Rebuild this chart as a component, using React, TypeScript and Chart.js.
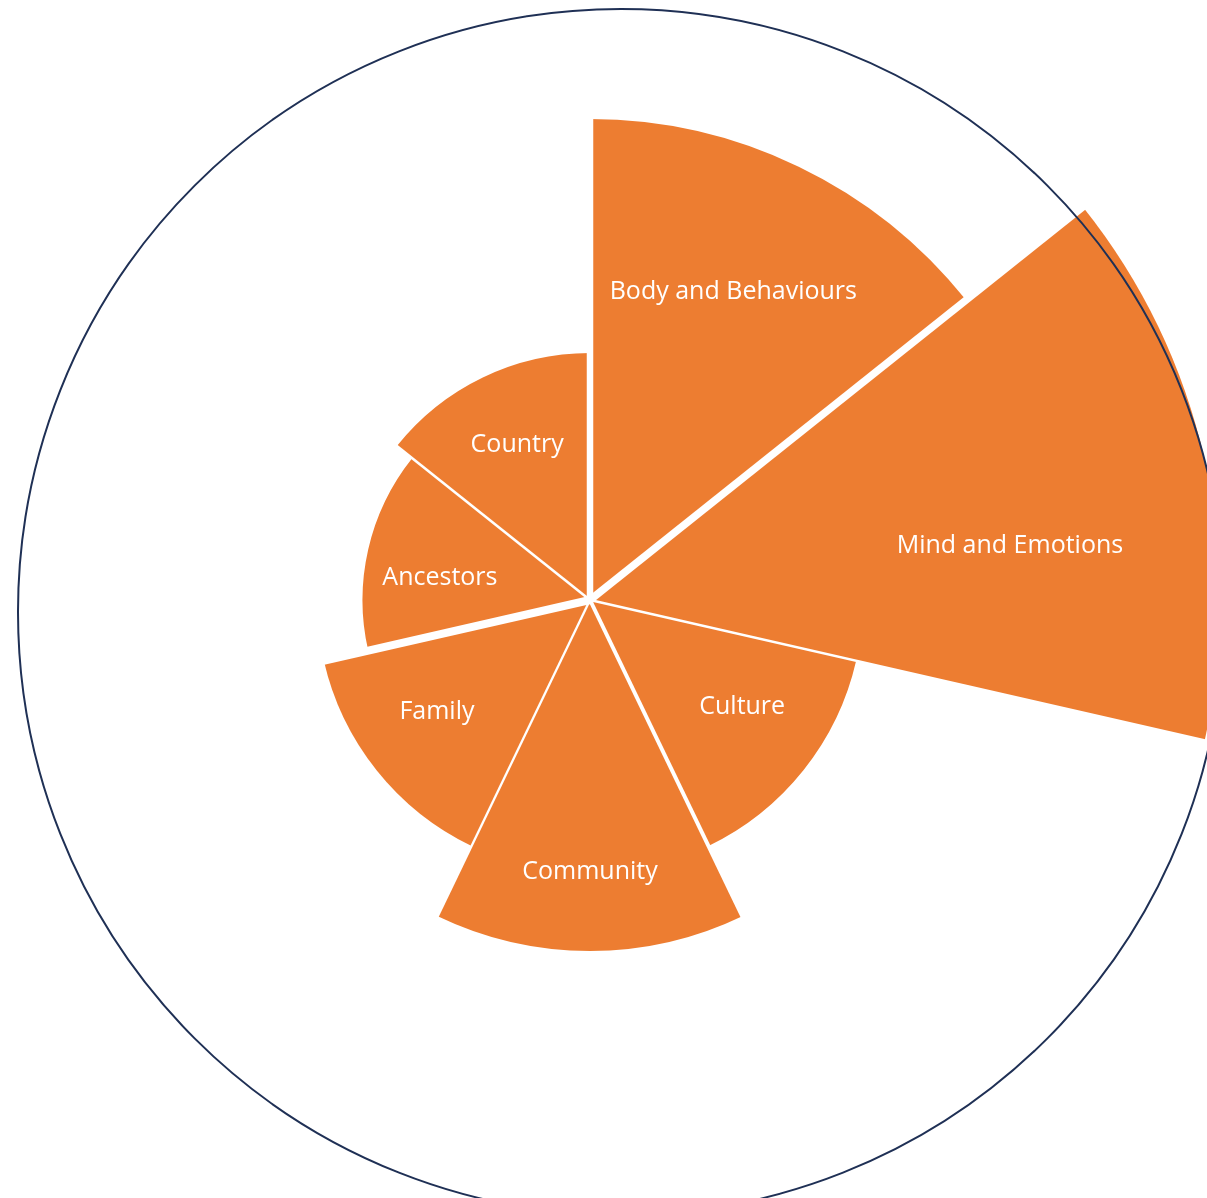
import React, { useEffect, useRef } from 'react';
import { Chart, registerables } from 'chart.js';

Chart.register(...registerables);

// ---- data ----
const CATEGORIES = [
  'Body and Behaviours',
  'Mind and Emotions',
  'Culture',
  'Community',
  'Family',
  'Ancestors',
  'Country',
];
const VALUES = [7.4, 9.7, 4.2, 5.4, 4.2, 3.5, 3.8];
const SCALE_MAX = 10;

// ---- styles ----
const ORANGE = '#ED7D31';
const RING_COLOR = '#1F3055';
// white gap width before each segment (between previous segment and this one)
const GAPS = [6.5, 7.5, 2.5, 4, 2.3, 8, 2.6];
// label placement inside each segment (share of radius, turn in degrees)
const LABEL_FRACTION = [0.71, 0.672, 0.677, 0.769, 0.69, 0.668, 0.7];
const LABEL_TURN = [-0.9, 5.2, -4.0, 0, 2.9, -3.8, 0.8];
const LABEL_FONT = '25px "Open Sans"';
const LABEL_DY = 2;

const CANVAS_SIZE = 1300;

const separatorPlugin = {
  id: 'separators',
  afterDatasetsDraw(chart: any) {
    const arcs = chart.getDatasetMeta(0).data;
    const n = arcs.length;
    const ctx = chart.ctx;
    ctx.save();
    ctx.strokeStyle = '#ffffff';
    ctx.lineCap = 'butt';
    for (let i = 0; i < n; i++) {
      const a = arcs[i].getProps(['x', 'y', 'startAngle', 'outerRadius'], true);
      const p = arcs[(i - 1 + n) % n].getProps(['outerRadius'], true);
      const len = Math.max(a.outerRadius, p.outerRadius) + 6;
      ctx.lineWidth = GAPS[i];
      ctx.beginPath();
      ctx.moveTo(a.x, a.y);
      ctx.lineTo(a.x + Math.cos(a.startAngle) * len, a.y + Math.sin(a.startAngle) * len);
      ctx.stroke();
    }
    ctx.restore();
  },
};

const labelPlugin = {
  id: 'segmentLabels',
  afterDatasetsDraw(chart: any) {
    const arcs = chart.getDatasetMeta(0).data;
    const ctx = chart.ctx;
    ctx.save();
    ctx.fillStyle = '#ffffff';
    ctx.font = LABEL_FONT;
    ctx.textAlign = 'center';
    ctx.textBaseline = 'middle';
    arcs.forEach((arc: any, i: number) => {
      const a = arc.getProps(['x', 'y', 'startAngle', 'endAngle', 'outerRadius'], true);
      const mid = (a.startAngle + a.endAngle) / 2 + (LABEL_TURN[i] * Math.PI) / 180;
      const r = a.outerRadius * LABEL_FRACTION[i];
      ctx.fillText(
        chart.data.labels[i],
        a.x + Math.cos(mid) * r,
        a.y + Math.sin(mid) * r + LABEL_DY,
      );
    });
    ctx.restore();
  },
};

export default function App() {
  const canvasRef = useRef<HTMLCanvasElement | null>(null);

  useEffect(() => {
    if (!canvasRef.current) return;
    const chart = new Chart(canvasRef.current, {
      type: 'polarArea',
      data: {
        labels: CATEGORIES,
        datasets: [
          {
            data: VALUES,
            backgroundColor: ORANGE,
            borderWidth: 0,
          },
        ],
      },
      options: {
        responsive: false,
        animation: false,
        devicePixelRatio: 1,
        layout: { padding: 0 },
        plugins: {
          legend: { display: false },
          tooltip: { enabled: false },
        },
        scales: {
          r: {
            display: false,
            min: 0,
            max: SCALE_MAX,
            startAngle: 0,
            ticks: { display: false },
            grid: { display: false },
            angleLines: { display: false },
            pointLabels: { display: false },
          },
        },
      },
      plugins: [separatorPlugin, labelPlugin],
    } as any);
    return () => chart.destroy();
  }, []);

  return (
    <div
      style={{
        position: 'fixed',
        left: 0,
        top: 0,
        width: 1207,
        height: 1198,
        overflow: 'hidden',
        background: '#ffffff',
      }}
    >
      <canvas
        ref={canvasRef}
        width={CANVAS_SIZE}
        height={CANVAS_SIZE}
        style={{
          position: 'absolute',
          left: 590 - CANVAS_SIZE / 2,
          top: 600 - CANVAS_SIZE / 2,
          width: CANVAS_SIZE,
          height: CANVAS_SIZE,
        }}
      />
      <div
        style={{
          position: 'absolute',
          left: 17,
          top: 8,
          width: 1208,
          height: 1208,
          boxSizing: 'border-box',
          border: `2px solid ${RING_COLOR}`,
          borderRadius: '50%',
          pointerEvents: 'none',
        }}
      />
    </div>
  );
}
